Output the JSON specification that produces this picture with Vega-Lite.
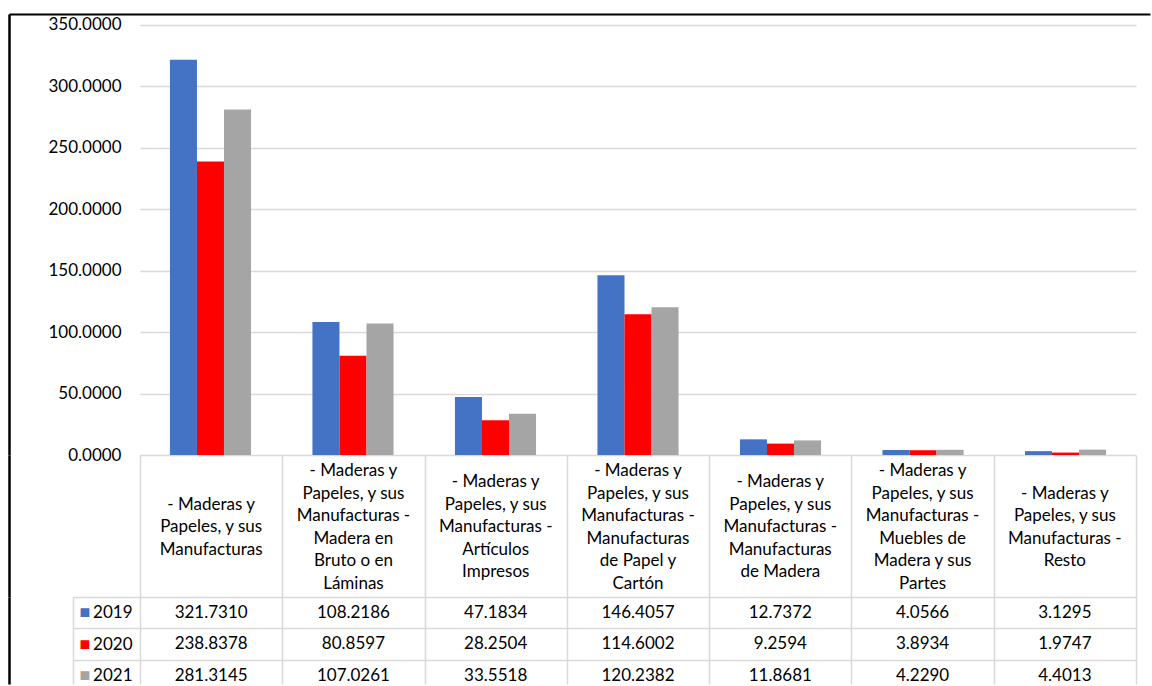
{
  "$schema": "https://vega.github.io/schema/vega-lite/v6.json",
  "padding": {"left": 8, "top": 13, "right": 0, "bottom": 0},
  "background": "white",
  "config": {
    "view": {"stroke": null},
    "font": "Lato",
    "text": {"font": "Lato"},
    "axis": {"labelFont": "Lato", "titleFont": "Lato"}
  },
  "datasets": {
    "d": [
      {"categoria": "- Maderas y\nPapeles, y sus\nManufacturas", "year": 2019, "value": 321.7310},
      {"categoria": "- Maderas y\nPapeles, y sus\nManufacturas", "year": 2020, "value": 238.8378},
      {"categoria": "- Maderas y\nPapeles, y sus\nManufacturas", "year": 2021, "value": 281.3145},
      {"categoria": "- Maderas y\nPapeles, y sus\nManufacturas -\nMadera en\nBruto o en\nLáminas", "year": 2019, "value": 108.2186},
      {"categoria": "- Maderas y\nPapeles, y sus\nManufacturas -\nMadera en\nBruto o en\nLáminas", "year": 2020, "value": 80.8597},
      {"categoria": "- Maderas y\nPapeles, y sus\nManufacturas -\nMadera en\nBruto o en\nLáminas", "year": 2021, "value": 107.0261},
      {"categoria": "- Maderas y\nPapeles, y sus\nManufacturas -\nArtículos\nImpresos", "year": 2019, "value": 47.1834},
      {"categoria": "- Maderas y\nPapeles, y sus\nManufacturas -\nArtículos\nImpresos", "year": 2020, "value": 28.2504},
      {"categoria": "- Maderas y\nPapeles, y sus\nManufacturas -\nArtículos\nImpresos", "year": 2021, "value": 33.5518},
      {"categoria": "- Maderas y\nPapeles, y sus\nManufacturas -\nManufacturas\nde Papel y\nCartón", "year": 2019, "value": 146.4057},
      {"categoria": "- Maderas y\nPapeles, y sus\nManufacturas -\nManufacturas\nde Papel y\nCartón", "year": 2020, "value": 114.6002},
      {"categoria": "- Maderas y\nPapeles, y sus\nManufacturas -\nManufacturas\nde Papel y\nCartón", "year": 2021, "value": 120.2382},
      {"categoria": "- Maderas y\nPapeles, y sus\nManufacturas -\nManufacturas\nde Madera", "year": 2019, "value": 12.7372},
      {"categoria": "- Maderas y\nPapeles, y sus\nManufacturas -\nManufacturas\nde Madera", "year": 2020, "value": 9.2594},
      {"categoria": "- Maderas y\nPapeles, y sus\nManufacturas -\nManufacturas\nde Madera", "year": 2021, "value": 11.8681},
      {"categoria": "- Maderas y\nPapeles, y sus\nManufacturas -\nMuebles de\nMadera y sus\nPartes", "year": 2019, "value": 4.0566},
      {"categoria": "- Maderas y\nPapeles, y sus\nManufacturas -\nMuebles de\nMadera y sus\nPartes", "year": 2020, "value": 3.8934},
      {"categoria": "- Maderas y\nPapeles, y sus\nManufacturas -\nMuebles de\nMadera y sus\nPartes", "year": 2021, "value": 4.2290},
      {"categoria": "- Maderas y\nPapeles, y sus\nManufacturas -\nResto", "year": 2019, "value": 3.1295},
      {"categoria": "- Maderas y\nPapeles, y sus\nManufacturas -\nResto", "year": 2020, "value": 1.9747},
      {"categoria": "- Maderas y\nPapeles, y sus\nManufacturas -\nResto", "year": 2021, "value": 4.4013}
    ]
  },
  "bounds": "flush",
  "spacing": 0,
  "vconcat": [
    {
      "width": 996,
      "height": 441,
      "data": {"name": "d"},
      "layer": [
        {
          "mark": {"type": "bar"},
          "encoding": {
            "x": {"field": "categoria", "type": "nominal", "sort": null, "scale": {"paddingInner": 0.431, "paddingOuter": 0.21}, "axis": null},
            "xOffset": {"field": "year", "type": "nominal", "scale": {"paddingInner": 0, "paddingOuter": 0}},
            "y": {"field": "value", "type": "quantitative", "scale": {"domain": [0, 358.95], "nice": false, "zero": true},
              "axis": {"values": [0, 50, 100, 150, 200, 250, 300, 350], "format": ".4f", "grid": true, "gridColor": "#d9d9d9", "gridWidth": 1.3, "domain": false, "ticks": false, "labelPadding": 19, "labelFontSize": 17, "labelColor": "#000000", "title": null}},
            "color": {"field": "year", "type": "nominal", "scale": {"domain": [2019, 2020, 2021], "range": ["#4472C4", "#FF0000", "#A5A5A5"]}, "legend": null}
          }
        },
        {
          "mark": {"type": "bar", "opacity": 0},
          "encoding": {
            "x": {"field": "categoria", "type": "nominal", "sort": null},
            "xOffset": {"field": "year", "type": "nominal"},
            "y": {"field": "value", "type": "quantitative",
              "axis": {"orient": "left", "offset": 131, "values": [358.95], "labels": false, "grid": false, "domain": true, "domainColor": "#000000", "domainWidth": 2.5, "ticks": true, "tickSize": -1141, "tickColor": "#000000", "tickWidth": 2, "title": null}}
          }
        }
      ],
      "resolve": {"axis": {"y": "independent"}}
    },
    {
      "width": 996,
      "height": 142,
      "data": {"name": "d"},
      "transform": [{"filter": "datum.year == 2019"}],
      "mark": {"type": "text", "lineBreak": "\n", "lineHeight": 22.5, "fontSize": 17, "align": "center", "baseline": "middle", "color": "#000000",
        "dy": {"expr": "-(length(split(datum.categoria, '\\n')) - 1) * 11.25"}},
      "encoding": {
        "x": {"field": "categoria", "type": "nominal", "sort": null, "scale": {"paddingInner": 0, "paddingOuter": 0},
          "axis": {"labels": false, "ticks": false, "domain": false, "grid": true, "gridColor": "#d9d9d9", "gridWidth": 1.5, "tickBand": "extent", "title": null}},
        "y": {"datum": 0.49, "type": "quantitative", "scale": {"domain": [0, 1]},
          "axis": {"orient": "left", "offset": 131, "domain": true, "domainColor": "#000000", "domainWidth": 2.5, "labels": false, "ticks": false, "grid": false, "title": null}},
        "text": {"field": "categoria"}
      }
    },
    {
      "width": 996,
      "height": 87,
      "data": {"name": "d"},
      "layer": [
        {
          "mark": {"type": "text", "fontSize": 17, "color": "#000000"},
          "encoding": {
            "x": {"field": "categoria", "type": "nominal", "sort": null, "scale": {"paddingInner": 0, "paddingOuter": 0},
              "axis": {"labels": false, "ticks": false, "domain": false, "grid": true, "gridColor": "#d9d9d9", "gridWidth": 1.5, "tickBand": "extent", "title": null}},
            "y": {"field": "year", "type": "quantitative", "scale": {"domain": [2018.5, 2021.262], "nice": false, "zero": false, "reverse": true},
              "axis": {"values": [2019, 2020, 2021], "format": "d", "grid": true, "gridColor": "#d9d9d9", "gridWidth": 1.5, "domain": false, "ticks": true, "tickSize": 67, "tickColor": "#d9d9d9", "tickWidth": 1.5, "tickOffset": -15.75, "labelOffset": 15.75, "labelPadding": -59, "labelFontSize": 17, "labelColor": "#000000", "title": null}},
            "text": {"field": "value", "type": "quantitative", "format": ".4f"}
          }
        },
        {
          "mark": {"type": "text", "opacity": 0},
          "encoding": {
            "y": {"field": "year", "type": "quantitative",
              "axis": {"orient": "left", "offset": 67, "values": [2019, 2020, 2021], "labelExpr": "'■'", "labelAlign": "left", "labelPadding": -6, "labelFontSize": 18, "labelColor": {"condition": [{"test": "datum.value == 2019", "value": "#4472C4"}, {"test": "datum.value == 2020", "value": "#FF0000"}], "value": "#A5A5A5"}, "domain": true, "domainColor": "#d9d9d9", "domainWidth": 1.5, "ticks": false, "grid": false, "title": null}},
            "text": {"field": "value", "type": "quantitative"}
          }
        },
        {
          "mark": {"type": "text", "opacity": 0},
          "encoding": {
            "y": {"field": "year", "type": "quantitative",
              "axis": {"orient": "left", "offset": 131, "labels": false, "ticks": false, "grid": false, "domain": true, "domainColor": "#000000", "domainWidth": 2.5, "title": null}},
            "text": {"field": "value", "type": "quantitative"}
          }
        }
      ],
      "resolve": {"axis": {"y": "independent"}}
    }
  ]
}
